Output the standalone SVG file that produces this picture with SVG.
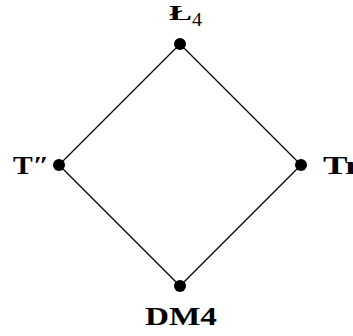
<svg xmlns="http://www.w3.org/2000/svg" width="353" height="336" viewBox="0 0 353 336">
<style>
.e{stroke:#000;stroke-width:1.2;fill:none}
.n{fill:#000}
.t{font-family:"Liberation Serif","DejaVu Serif",serif;font-size:26px;font-weight:bold;fill:#000}
.s{font-family:"Liberation Serif","DejaVu Serif",serif;font-size:19px;font-weight:normal;fill:#000}
</style>
<rect width="353" height="336" fill="#fff"/>
<g id="connectors">
<line class="e" x1="180" y1="44" x2="59" y2="165"/>
<line class="e" x1="180" y1="44" x2="301" y2="165"/>
<line class="e" x1="59" y1="165" x2="180" y2="286"/>
<line class="e" x1="301" y1="165" x2="180" y2="286"/>
</g>
<g id="L4">
<circle class="n" cx="180" cy="44" r="6"/>
<text class="t" x="169" y="20" style="font-size:22px" textLength="23" lengthAdjust="spacingAndGlyphs">Ł</text>
<text class="s" x="192" y="26" textLength="10" lengthAdjust="spacingAndGlyphs">4</text>
</g>
<g id="Tpp">
<circle class="n" cx="59" cy="165" r="6"/>
<text class="t" x="13" y="174" textLength="36" lengthAdjust="spacingAndGlyphs">T″</text>
</g>
<g id="Tr">
<circle class="n" cx="301" cy="165" r="6"/>
<text class="t" x="323" y="174" textLength="38" lengthAdjust="spacingAndGlyphs">Tr</text>
</g>
<g id="DM4">
<circle class="n" cx="180" cy="286" r="6"/>
<text class="t" x="145" y="325" textLength="72" lengthAdjust="spacingAndGlyphs">DM4</text>
</g>
</svg>
